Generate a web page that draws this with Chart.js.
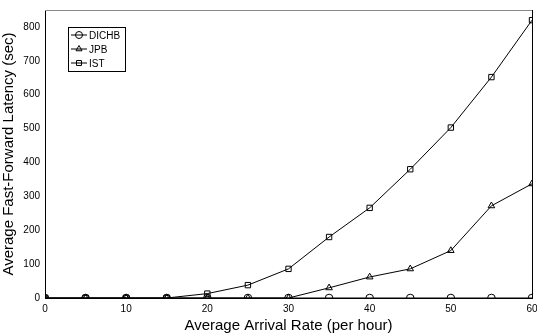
<!DOCTYPE html>
<html>
<head>
<meta charset="utf-8">
<script src="https://cdn.jsdelivr.net/npm/chart.js@4"></script>
<style>
  html, body { margin: 0; padding: 0; background: #fff; }
  #wrap { width: 537px; height: 335px; }
</style>
</head>
<body>
<div id="wrap"><canvas id="latencyChart" width="537" height="335"></canvas></div>
<script>
const rates = [0, 5, 10, 15, 20, 25, 30, 35, 40, 45, 50, 55, 60];
const dichb = [0, 0, 0, 0, 0, 0, 0, 0, 0, 0, 0, 0, 0];
const jpb = [0, 0, 0, 0, 0, 0, 0, 30, 62, 86, 140, 272, 337];
const ist = [0, 0, 0, 0, 13, 38, 86, 180, 266, 380, 503, 652, 820];
const yTicks = [0, 100, 200, 300, 400, 500, 600, 700, 800];

const FONT = "'Liberation Sans Narrow', 'Liberation Sans', Arial, sans-serif";

function toPoints(vals) {
  return rates.map((r, i) => ({ x: r, y: vals[i] }));
}

// draws right/top frame lines
const framePlugin = {
  id: "frame",
  afterDraw(chart) {
    const { ctx, chartArea: a } = chart;
    ctx.save();
    ctx.lineWidth = 1;
    ctx.strokeStyle = "#888";
    ctx.beginPath();
    ctx.moveTo(a.left, a.top + 0.5);
    ctx.lineTo(a.right, a.top + 0.5);
    ctx.stroke();
    ctx.strokeStyle = "#000";
    ctx.beginPath();
    ctx.moveTo(a.right + 0.5, a.top);
    ctx.lineTo(a.right + 0.5, a.bottom);
    ctx.stroke();
    ctx.restore();
  },
};

// legend box inside the plot, line + marker like the original
const boxLegend = {
  id: "boxLegend",
  afterDraw(chart) {
    const ctx = chart.ctx;
    const x0 = 68, y0 = 27, w = 57, rowH = 14;
    const sets = chart.data.datasets;
    ctx.save();
    ctx.strokeStyle = "#000";
    ctx.lineWidth = 1;
    ctx.strokeRect(x0 + 0.5, y0 + 0.5, w, rowH * sets.length + 2);
    ctx.font = "10px " + FONT;
    ctx.textBaseline = "middle";
    sets.forEach((ds, i) => {
      const cy = y0 + 8 + i * rowH;
      ctx.beginPath();
      ctx.moveTo(x0 + 3, cy);
      ctx.lineTo(x0 + 19, cy);
      ctx.stroke();
      ctx.fillStyle = "rgba(0,0,0,0)";
      Chart.helpers.drawPoint(ctx, {
        pointStyle: ds.pointStyle, radius: 3.5, borderWidth: 1,
      }, x0 + 11, cy);
      ctx.fillStyle = "#000";
      ctx.fillText(ds.label, x0 + 21, cy + 1);
    });
    ctx.restore();
  },
};

const ctx = document.getElementById("latencyChart").getContext("2d");
new Chart(ctx, {
  type: "line",
  data: {
    datasets: [
      { label: "DICHB", data: toPoints(dichb), pointStyle: "circle" },
      { label: "JPB", data: toPoints(jpb), pointStyle: "triangle" },
      { label: "IST", data: toPoints(ist), pointStyle: "rect" },
    ].map((d) => Object.assign(d, {
      borderColor: "#000",
      borderWidth: 1,
      backgroundColor: "rgba(0,0,0,0)",
      pointBorderColor: "#000",
      pointBackgroundColor: "rgba(0,0,0,0)",
      pointRadius: 3.8,
      pointBorderWidth: 1,
      tension: 0,
    })),
  },
  options: {
    responsive: false,
    animation: false,
    layout: { padding: { top: 10, right: 3, left: 0, bottom: 0 } },
    plugins: { legend: { display: false }, tooltip: { enabled: false } },
    scales: {
      x: {
        type: "linear",
        min: 0,
        max: 60,
        afterFit: (s) => { s.height = 37; s.paddingRight = 0; },
        ticks: { stepSize: 10, color: "#000", font: { family: FONT, size: 10 }, padding: 2 },
        grid: { display: false, drawTicks: true, tickLength: 3, tickColor: "#000" },
        border: { color: "#000", width: 1 },
        title: {
          display: true,
          text: "Average Arrival Rate (per hour)",
          color: "#000",
          font: { family: FONT, size: 15 },
          padding: { top: 0, bottom: 0 },
        },
      },
      y: {
        min: 0,
        max: 850,
        afterFit: (s) => { s.width = 45; },
        afterBuildTicks: (s) => { s.ticks = yTicks.map((v) => ({ value: v })); },
        ticks: { color: "#000", font: { family: FONT, size: 10 }, padding: 2 },
        grid: { display: false, drawTicks: true, tickLength: 3, tickColor: "#000" },
        border: { color: "#000", width: 1 },
        title: {
          display: true,
          text: "Average Fast-Forward Latency (sec)",
          color: "#000",
          font: { family: FONT, size: 15 },
          padding: { top: 0, bottom: 0 },
        },
      },
    },
  },
  plugins: [framePlugin, boxLegend],
});
</script>
</body>
</html>
